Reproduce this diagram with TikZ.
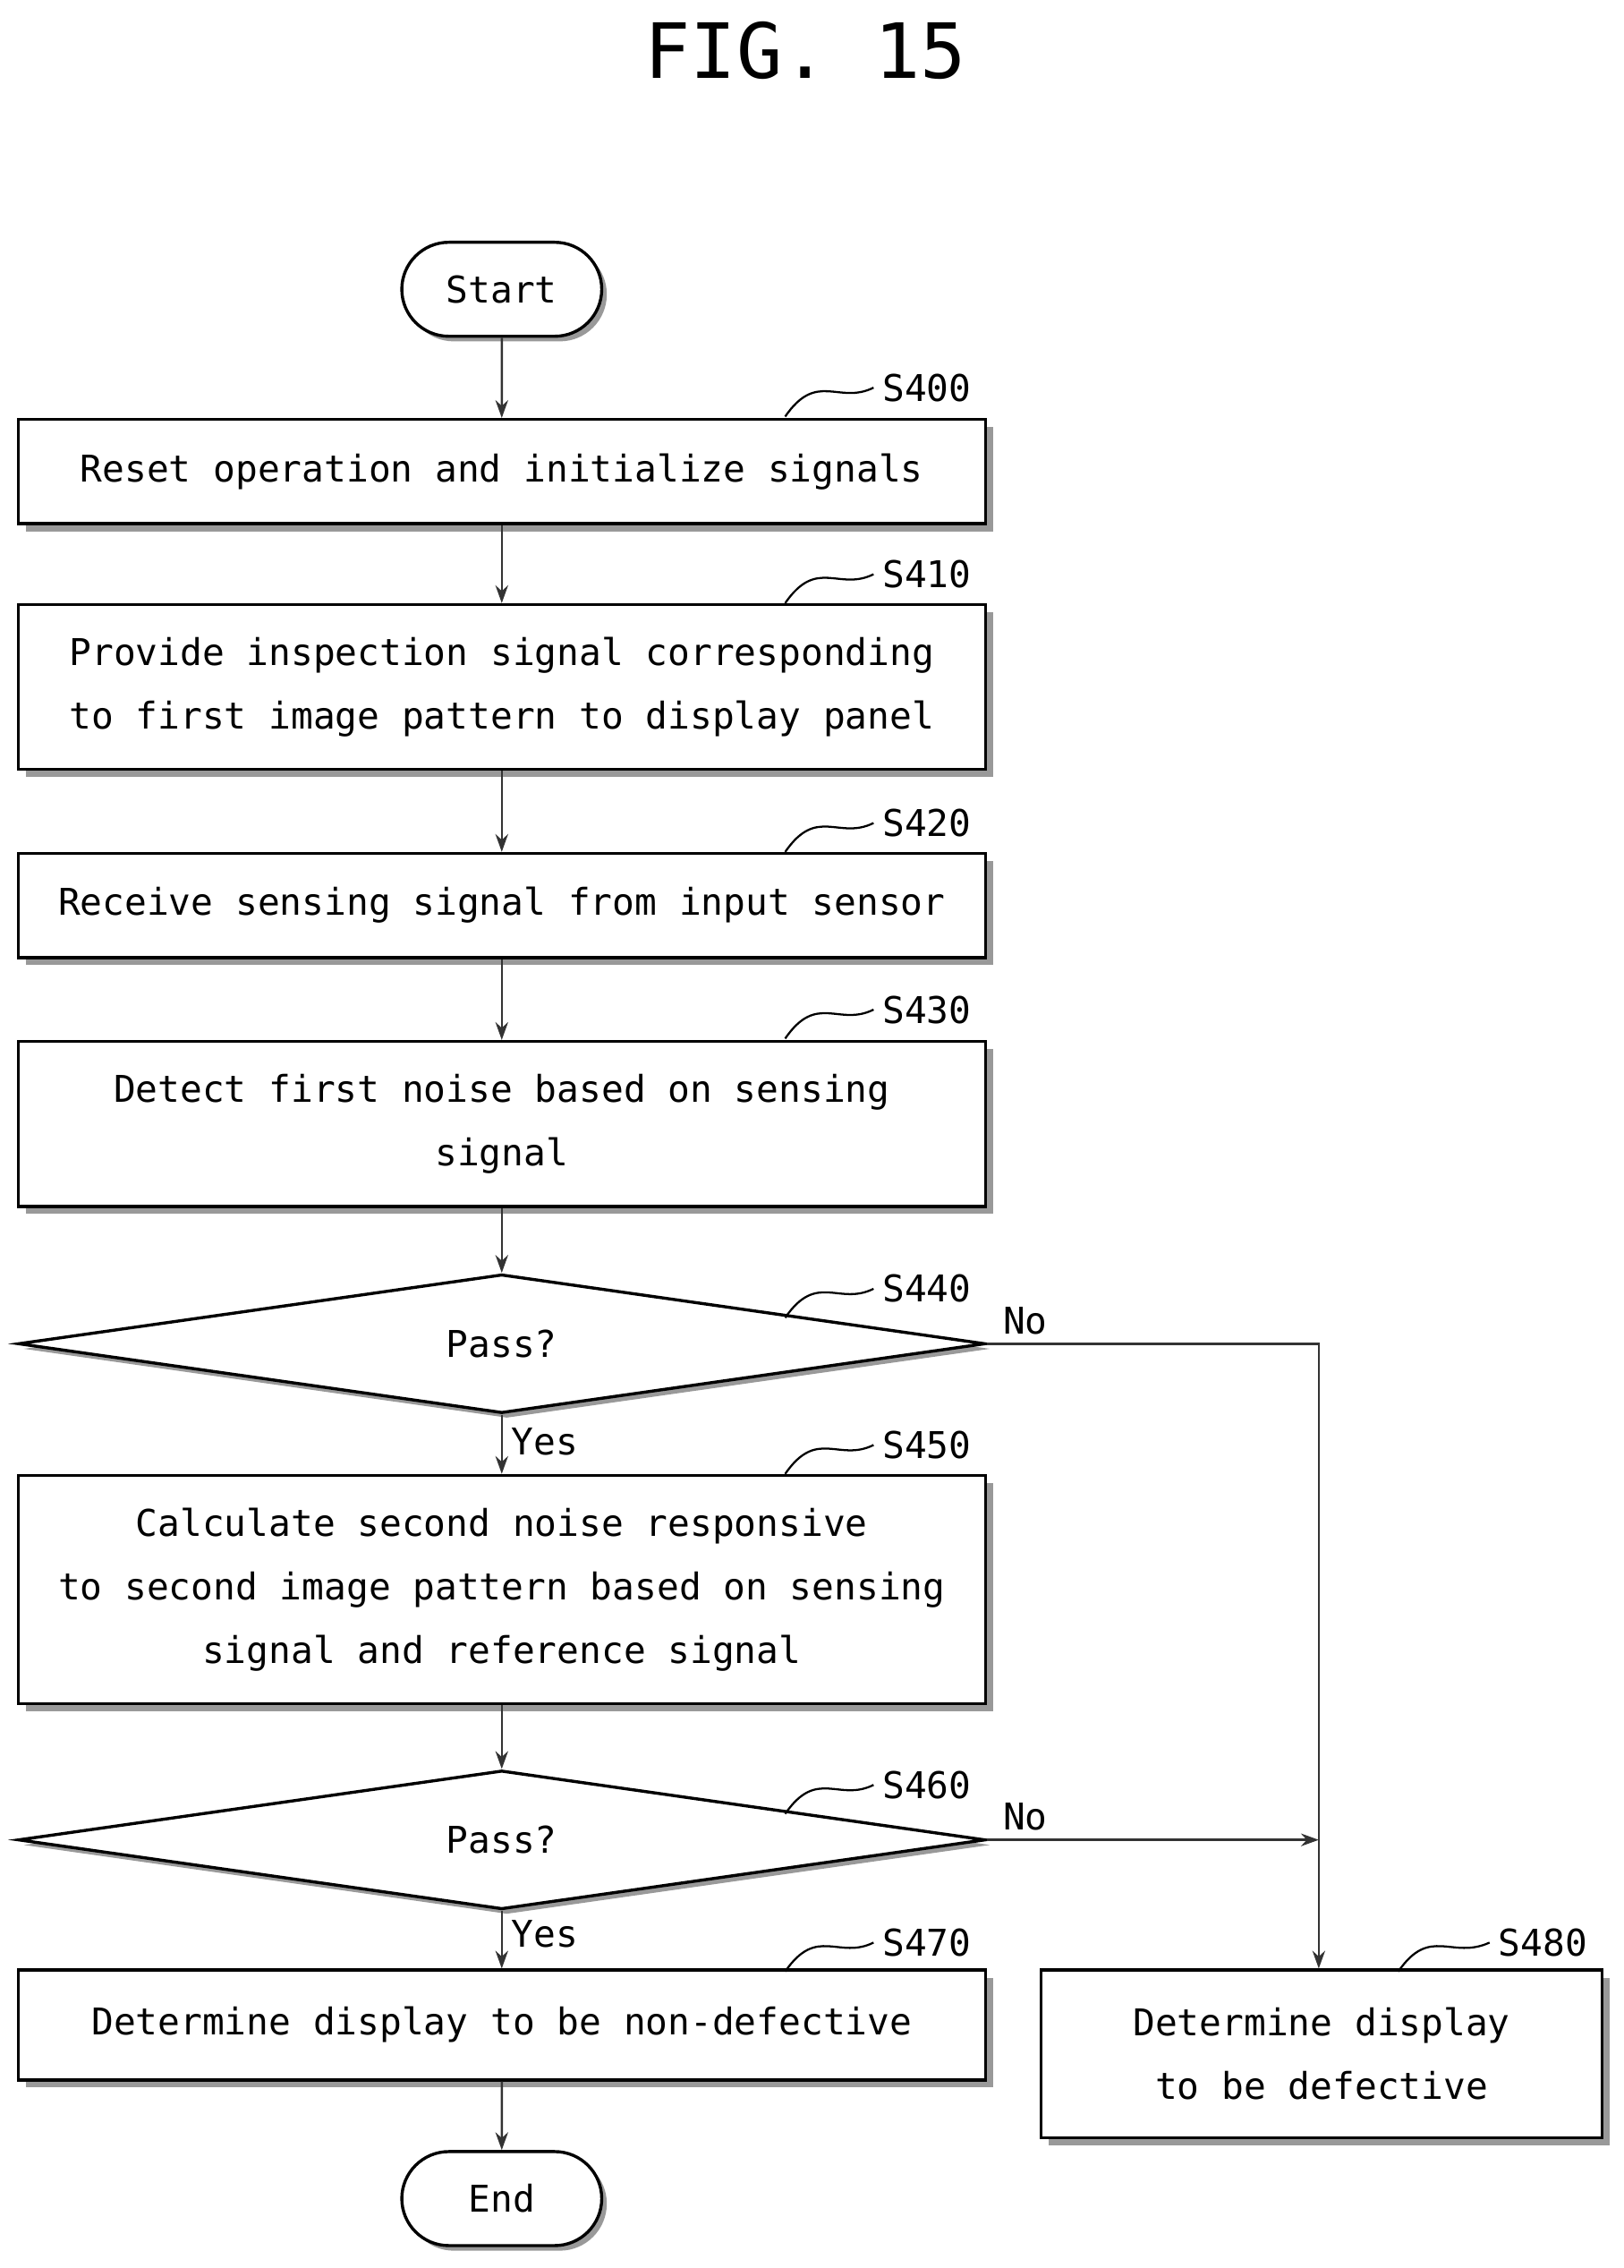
\documentclass[tikz,border=0pt]{standalone}
\usepackage{fontspec}
\setmainfont{DejaVu Sans Mono}
\usetikzlibrary{shapes.geometric,shapes.misc,shadows,arrows.meta}
\begin{document}
\begin{tikzpicture}[x=0.02cm,y=-0.02cm,
  box/.style={draw,line width=1.2pt,fill=white,minimum width=13.38cm,align=center,font=\fontsize{14.5}{25}\selectfont,inner sep=0pt,
    drop shadow={shadow xshift=3pt,shadow yshift=-3pt,fill=gray!80,opacity=1}},
  term/.style={draw,line width=1.2pt,rounded rectangle,fill=white,minimum width=3cm,minimum height=1.3cm,font=\fontsize{14.5}{25}\selectfont,
    drop shadow={shadow xshift=2pt,shadow yshift=-2pt,fill=gray!80,opacity=1}},
  dia/.style={draw,line width=1.2pt,diamond,fill=white,minimum width=13.38cm,minimum height=1.48cm,inner sep=0pt,font=\fontsize{14.5}{25}\selectfont,
    drop shadow={shadow xshift=2pt,shadow yshift=-2pt,fill=gray!80,opacity=1}},
  lab/.style={font=\fontsize{14.5}{18}\selectfont},
  arr/.style={-{Stealth[length=7pt,width=5pt]},line width=0.9pt,gray!40!black},
  sq/.style={line width=0.8pt}]
\useasboundingbox (0,0) rectangle (1123,1568);
\node[font=\fontsize{30}{36}\selectfont] (title) at (557,35) {FIG. 15};
\node[term] (start) at (347,200) {Start};
\node[box,minimum height=1.44cm] (s400) at (347,326) {Reset operation and initialize signals};
\node[box,minimum height=2.28cm] (s410) at (347,475) {Provide inspection signal corresponding\\to first image pattern to display panel};
\node[box,minimum height=1.44cm] (s420) at (347,626) {Receive sensing signal from input sensor};
\node[box,minimum height=2.28cm] (s430) at (347,777) {Detect first noise based on sensing\\signal};
\node[dia] (s440) at (347,929) {Pass?};
\node[box,minimum height=3.16cm] (s450) at (347,1099) {Calculate second noise responsive\\to second image pattern based on sensing\\signal and reference signal};
\node[dia] (s460) at (347,1272) {Pass?};
\node[box,minimum height=1.52cm] (s470) at (347,1400) {Determine display to be non-defective};
\node[box,minimum width=7.76cm,minimum height=2.32cm] (s480) at (914,1420) {Determine display\\to be defective};
\node[term] (end) at (347,1520) {End};
\foreach \n/\t/\y in {l400/S400/268,l410/S410/397,l420/S420/569,l430/S430/698,l440/S440/891,l450/S450/999,l460/S460/1234,l470/S470/1343}{
  \node[lab] (\n) at (641,\y) {\t};
  \coordinate (c\n) at (543,\y+20);
  \draw[sq] (c\n) .. controls (565,\y-12) and (580,\y+12) .. (\n.west);
}
\node[lab] (l480) at (1067,1343) {S480};
\coordinate (cl480) at (967,1363);
\draw[sq] (cl480) .. controls (989,1331) and (1004,1355) .. (l480.west);
\draw[arr] (start) -- (s400);
\draw[arr] (s400) -- (s410);
\draw[arr] (s410) -- (s420);
\draw[arr] (s420) -- (s430);
\draw[arr] (s430) -- (s440.north);
\draw[arr] (s440.south) -- node[right,lab,black,pos=0.45]{Yes} (s450);
\draw[arr] (s450) -- (s460.north);
\draw[arr] (s460.south) -- node[right,lab,black,pos=0.4]{Yes} (s470);
\draw[arr] (s470) -- (end);
\coordinate (j) at (912,1272);
\draw[arr] (s440.east) -- node[above right,lab,black,pos=0.02]{No} (912,929) -- (s480.north -| j);
\draw[arr] (s460.east) -- node[above right,lab,black,pos=0.02]{No} (j);
\end{tikzpicture}
\end{document}
